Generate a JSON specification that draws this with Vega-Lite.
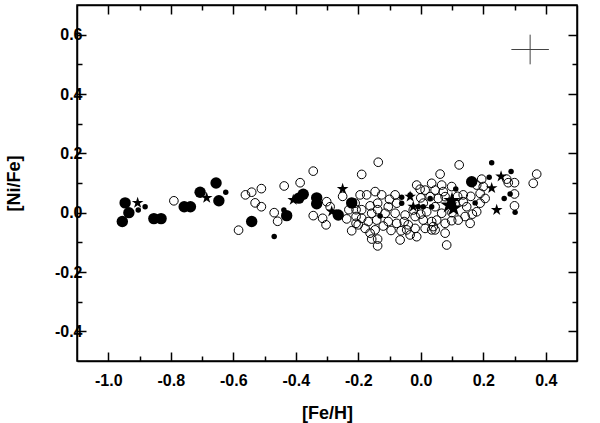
{
"$schema":"https://vega.github.io/schema/vega-lite/v6.json",
"width":500,"height":356,
"autosize":{"type":"none"},
"padding":{"left":77,"top":5,"right":23,"bottom":62},
"config":{"view":{"stroke":"black","strokeWidth":1.5},
"axis":{"labelFont":"Liberation Sans","labelFontWeight":"bold","labelFontSize":16,"labelColor":"black","titleFont":"Liberation Sans","titleFontWeight":"bold","titleFontSize":18,"titleColor":"black","grid":false,"domainColor":"black","domainWidth":1.5,"tickColor":"black","tickWidth":1.5}},
"datasets":{
"pts":[
{"x":-0.79,"y":0.04,"t":"o"},{"x":-0.583,"y":-0.059,"t":"o"},{"x":-0.561,"y":0.06,"t":"o"},{"x":-0.541,"y":0.069,"t":"o"},{"x":-0.51,"y":0.081,"t":"o"},{"x":-0.53,"y":0.033,"t":"o"},{"x":-0.51,"y":0.02,"t":"o"},{"x":-0.437,"y":0.09,"t":"o"},{"x":-0.469,"y":0.0,"t":"o"},{"x":-0.458,"y":-0.029,"t":"o"},{"x":-0.386,"y":0.101,"t":"o"},{"x":-0.344,"y":0.14,"t":"o"},{"x":-0.344,"y":-0.01,"t":"o"},{"x":-0.301,"y":0.037,"t":"o"},{"x":-0.314,"y":-0.019,"t":"o"},{"x":-0.303,"y":-0.041,"t":"o"},{"x":-0.29,"y":0.02,"t":"o"},{"x":-0.237,"y":-0.021,"t":"o"},{"x":-0.189,"y":0.129,"t":"o"},{"x":-0.136,"y":0.17,"t":"o"},{"x":-0.21,"y":0.032,"t":"o"},{"x":-0.207,"y":0.01,"t":"o"},{"x":-0.207,"y":-0.013,"t":"o"},{"x":-0.207,"y":-0.036,"t":"o"},{"x":-0.221,"y":-0.061,"t":"o"},{"x":-0.194,"y":0.06,"t":"o"},{"x":-0.173,"y":0.06,"t":"o"},{"x":-0.146,"y":0.071,"t":"o"},{"x":-0.125,"y":0.06,"t":"o"},{"x":-0.189,"y":0.01,"t":"o"},{"x":-0.162,"y":0.023,"t":"o"},{"x":-0.138,"y":0.032,"t":"o"},{"x":-0.138,"y":0.01,"t":"o"},{"x":-0.157,"y":-0.002,"t":"o"},{"x":-0.114,"y":-0.002,"t":"o"},{"x":-0.189,"y":-0.019,"t":"o"},{"x":-0.2,"y":-0.041,"t":"o"},{"x":-0.168,"y":-0.03,"t":"o"},{"x":-0.141,"y":-0.025,"t":"o"},{"x":-0.178,"y":-0.053,"t":"o"},{"x":-0.162,"y":-0.069,"t":"o"},{"x":-0.157,"y":-0.089,"t":"o"},{"x":-0.138,"y":-0.089,"t":"o"},{"x":-0.138,"y":-0.112,"t":"o"},{"x":-0.104,"y":-0.03,"t":"o"},{"x":-0.104,"y":0.02,"t":"o"},{"x":-0.146,"y":-0.058,"t":"o"},{"x":-0.082,"y":0.06,"t":"o"},{"x":-0.077,"y":0.032,"t":"o"},{"x":-0.082,"y":-0.002,"t":"o"},{"x":-0.077,"y":-0.036,"t":"o"},{"x":-0.063,"y":-0.061,"t":"o"},{"x":-0.066,"y":-0.092,"t":"o"},{"x":-0.05,"y":-0.008,"t":"o"},{"x":-0.053,"y":-0.03,"t":"o"},{"x":-0.04,"y":-0.041,"t":"o"},{"x":-0.045,"y":-0.058,"t":"o"},{"x":-0.018,"y":-0.053,"t":"o"},{"x":-0.013,"y":-0.081,"t":"o"},{"x":-0.034,"y":-0.075,"t":"o"},{"x":-0.018,"y":-0.013,"t":"o"},{"x":-0.024,"y":0.009,"t":"o"},{"x":-0.013,"y":0.093,"t":"o"},{"x":-0.002,"y":0.079,"t":"o"},{"x":0.014,"y":0.076,"t":"o"},{"x":0.035,"y":0.099,"t":"o"},{"x":0.008,"y":0.032,"t":"o"},{"x":0.019,"y":0.003,"t":"o"},{"x":0.008,"y":-0.025,"t":"o"},{"x":0.014,"y":-0.053,"t":"o"},{"x":0.035,"y":-0.03,"t":"o"},{"x":0.035,"y":-0.058,"t":"o"},{"x":0.03,"y":0.054,"t":"o"},{"x":0.062,"y":0.13,"t":"o"},{"x":0.123,"y":0.161,"t":"o"},{"x":0.067,"y":0.093,"t":"o"},{"x":0.046,"y":0.076,"t":"o"},{"x":0.072,"y":0.071,"t":"o"},{"x":0.099,"y":0.088,"t":"o"},{"x":0.056,"y":0.048,"t":"o"},{"x":0.078,"y":0.054,"t":"o"},{"x":0.136,"y":0.06,"t":"o"},{"x":0.136,"y":0.037,"t":"o"},{"x":0.147,"y":0.02,"t":"o"},{"x":0.046,"y":0.02,"t":"o"},{"x":0.067,"y":-0.002,"t":"o"},{"x":0.051,"y":-0.025,"t":"o"},{"x":0.04,"y":-0.047,"t":"o"},{"x":0.078,"y":-0.036,"t":"o"},{"x":0.099,"y":-0.027,"t":"o"},{"x":0.12,"y":-0.025,"t":"o"},{"x":0.142,"y":-0.013,"t":"o"},{"x":0.158,"y":-0.036,"t":"o"},{"x":0.078,"y":-0.069,"t":"o"},{"x":0.083,"y":-0.109,"t":"o"},{"x":0.046,"y":-0.058,"t":"o"},{"x":0.179,"y":0.093,"t":"o"},{"x":0.195,"y":0.113,"t":"o"},{"x":0.2,"y":0.088,"t":"o"},{"x":0.19,"y":0.065,"t":"o"},{"x":0.206,"y":0.048,"t":"o"},{"x":0.19,"y":0.032,"t":"o"},{"x":0.179,"y":0.003,"t":"o"},{"x":0.275,"y":0.113,"t":"o"},{"x":0.28,"y":0.101,"t":"o"},{"x":0.3,"y":0.101,"t":"o"},{"x":0.3,"y":0.063,"t":"o"},{"x":0.3,"y":0.023,"t":"o"},{"x":0.371,"y":0.13,"t":"o"},{"x":0.36,"y":0.099,"t":"o"},{"x":0.0,"y":-0.005,"t":"o"},{"x":0.0,"y":0.05,"t":"o"},{"x":0.1,"y":0.0,"t":"o"},{"x":0.11,"y":0.03,"t":"o"},{"x":0.118,"y":0.055,"t":"o"},{"x":0.16,"y":0.055,"t":"o"},{"x":0.165,"y":-0.005,"t":"o"},{"x":-0.1,"y":0.045,"t":"o"},{"x":-0.12,"y":-0.045,"t":"o"},{"x":-0.095,"y":-0.06,"t":"o"},{"x":-0.25,"y":0.055,"t":"o"},{"x":-0.23,"y":0.01,"t":"o"},
{"x":-0.946,"y":0.033,"t":"L"},{"x":-0.934,"y":0.0,"t":"L"},{"x":-0.955,"y":-0.03,"t":"L"},{"x":-0.854,"y":-0.02,"t":"L"},{"x":-0.831,"y":-0.02,"t":"L"},{"x":-0.757,"y":0.02,"t":"L"},{"x":-0.737,"y":0.02,"t":"L"},{"x":-0.706,"y":0.069,"t":"L"},{"x":-0.655,"y":0.1,"t":"L"},{"x":-0.646,"y":0.04,"t":"L"},{"x":-0.541,"y":-0.03,"t":"L"},{"x":-0.429,"y":-0.01,"t":"L"},{"x":-0.376,"y":0.062,"t":"L"},{"x":-0.39,"y":0.049,"t":"L"},{"x":-0.333,"y":0.05,"t":"L"},{"x":-0.333,"y":0.03,"t":"L"},{"x":-0.264,"y":-0.008,"t":"L"},{"x":-0.221,"y":0.033,"t":"L"},{"x":0.163,"y":0.104,"t":"L"},
{"x":-0.904,"y":0.009,"t":"S"},{"x":-0.882,"y":0.02,"t":"S"},{"x":-0.624,"y":0.069,"t":"S"},{"x":-0.469,"y":-0.08,"t":"S"},{"x":-0.438,"y":0.009,"t":"S"},{"x":-0.13,"y":-0.011,"t":"S"},{"x":-0.061,"y":0.052,"t":"S"},{"x":-0.061,"y":0.032,"t":"S"},{"x":-0.034,"y":0.06,"t":"S"},{"x":-0.008,"y":0.02,"t":"S"},{"x":0.008,"y":0.02,"t":"S"},{"x":0.03,"y":0.048,"t":"S"},{"x":0.035,"y":0.02,"t":"S"},{"x":0.112,"y":0.08,"t":"S"},{"x":0.174,"y":0.033,"t":"S"},{"x":0.227,"y":0.168,"t":"S"},{"x":0.219,"y":0.119,"t":"S"},{"x":0.289,"y":0.139,"t":"S"},{"x":0.286,"y":0.063,"t":"S"},{"x":0.267,"y":0.048,"t":"S"},{"x":0.302,"y":0.001,"t":"S"},
{"x":-0.906,"y":0.033,"t":"T"},{"x":-0.685,"y":0.05,"t":"T"},{"x":-0.408,"y":0.043,"t":"T"},{"x":-0.285,"y":0.004,"t":"T"},{"x":-0.25,"y":0.08,"t":"T"},{"x":-0.034,"y":0.054,"t":"T"},{"x":-0.024,"y":0.02,"t":"T"},{"x":0.227,"y":0.083,"t":"T"},{"x":0.243,"y":0.009,"t":"T"},{"x":0.257,"y":0.122,"t":"T"},
{"x":0.1,"y":0.04,"t":"B"},{"x":0.105,"y":0.015,"t":"B"},{"x":0.09,"y":0.025,"t":"B"}
],
"err":[{"x":0.35,"y":0.55,"xlo":0.29,"xhi":0.41,"ylo":0.5,"yhi":0.6}]
},
"layer":[
{"data":{"name":"pts"},"transform":[{"filter":"datum.t==='o'"}],
"mark":{"type":"point","shape":"circle","filled":false,"stroke":"black","strokeWidth":1,"size":75,"opacity":1},
"encoding":{
"x":{"field":"x","type":"quantitative","title":"[Fe/H]","scale":{"domain":[-1.1,0.5],"nice":false,"zero":false},"axis":{"orient":"bottom","values":[-1.0,-0.8,-0.6,-0.4,-0.2,0.0,0.2,0.4],"labelExpr":"replace(format(datum.value,'.1f'),'\u2212','-')","tickSize":-9,"labelPadding":20,"titlePadding":16}},
"y":{"field":"y","type":"quantitative","title":"[Ni/Fe]","scale":{"domain":[-0.5,0.7],"nice":false,"zero":false},"axis":{"orient":"left","values":[-0.4,-0.2,0.0,0.2,0.4,0.6],"labelExpr":"replace(format(datum.value,'.1f'),'\u2212','-')","tickSize":-9,"labelPadding":4,"titlePadding":31}}}},
{"data":{"name":"pts"},"transform":[{"filter":"datum.t==='L'"}],
"mark":{"type":"point","shape":"circle","filled":true,"fill":"black","size":130,"opacity":1},
"encoding":{
"x":{"field":"x","type":"quantitative","scale":{"domain":[-1.1,0.5],"nice":false,"zero":false},"axis":{"orient":"bottom","values":[-0.9,-0.7,-0.5,-0.3,-0.1,0.1,0.3],"labels":false,"tickSize":-5,"domain":false,"title":null}},
"y":{"field":"y","type":"quantitative","scale":{"domain":[-0.5,0.7],"nice":false,"zero":false},"axis":{"orient":"left","values":[-0.3,-0.1,0.1,0.3,0.5],"labels":false,"tickSize":-5,"domain":false,"title":null}}}},
{"data":{"name":"pts"},"transform":[{"filter":"datum.t==='S'"}],
"mark":{"type":"point","shape":"circle","filled":true,"fill":"black","size":30,"opacity":1},
"encoding":{
"x":{"field":"x","type":"quantitative","scale":{"domain":[-1.1,0.5],"nice":false,"zero":false},"axis":{"orient":"top","values":[-1.0,-0.8,-0.6,-0.4,-0.2,0.0,0.2,0.4],"labels":false,"tickSize":-9,"title":null}},
"y":{"field":"y","type":"quantitative","scale":{"domain":[-0.5,0.7],"nice":false,"zero":false},"axis":{"orient":"right","values":[-0.4,-0.2,0.0,0.2,0.4,0.6],"labels":false,"tickSize":-9,"title":null}}}},
{"data":{"name":"pts"},"transform":[{"filter":"datum.t==='T'"}],
"mark":{"type":"point","shape":"triangle-up","filled":true,"fill":"black","size":0,"opacity":0},
"encoding":{
"x":{"field":"x","type":"quantitative","scale":{"domain":[-1.1,0.5],"nice":false,"zero":false},"axis":{"orient":"top","values":[-0.9,-0.7,-0.5,-0.3,-0.1,0.1,0.3],"labels":false,"tickSize":-5,"domain":false,"title":null}},
"y":{"field":"y","type":"quantitative","scale":{"domain":[-0.5,0.7],"nice":false,"zero":false},"axis":{"orient":"right","values":[-0.3,-0.1,0.1,0.3,0.5],"labels":false,"tickSize":-5,"domain":false,"title":null}}}},
{"data":{"name":"pts"},"transform":[{"filter":"datum.t==='T'"}],
"mark":{"type":"point","shape":"M0,-1L0.2245,-0.309L0.951,-0.309L0.363,0.118L0.588,0.809L0,0.382L-0.588,0.809L-0.363,0.118L-0.951,-0.309L-0.2245,-0.309Z","filled":true,"fill":"black","size":150,"opacity":1},
"encoding":{"x":{"field":"x","type":"quantitative","axis":null},"y":{"field":"y","type":"quantitative","axis":null}}},
{"data":{"name":"pts"},"transform":[{"filter":"datum.t==='B'"}],
"mark":{"type":"point","shape":"M0,-1L0.2245,-0.309L0.951,-0.309L0.363,0.118L0.588,0.809L0,0.382L-0.588,0.809L-0.363,0.118L-0.951,-0.309L-0.2245,-0.309Z","filled":true,"fill":"black","size":330,"opacity":1},
"encoding":{"x":{"field":"x","type":"quantitative","axis":null},"y":{"field":"y","type":"quantitative","axis":null}}},
{"data":{"name":"err"},"mark":{"type":"rule","color":"#444","strokeWidth":1},
"encoding":{"x":{"field":"xlo","type":"quantitative","axis":null},"x2":{"field":"xhi"},"y":{"field":"y","type":"quantitative","axis":null}}},
{"data":{"name":"err"},"mark":{"type":"rule","color":"#444","strokeWidth":1},
"encoding":{"x":{"field":"x","type":"quantitative","axis":null},"y":{"field":"ylo","type":"quantitative","axis":null},"y2":{"field":"yhi"}}}
],
"resolve":{"axis":{"x":"independent","y":"independent"}}
}
